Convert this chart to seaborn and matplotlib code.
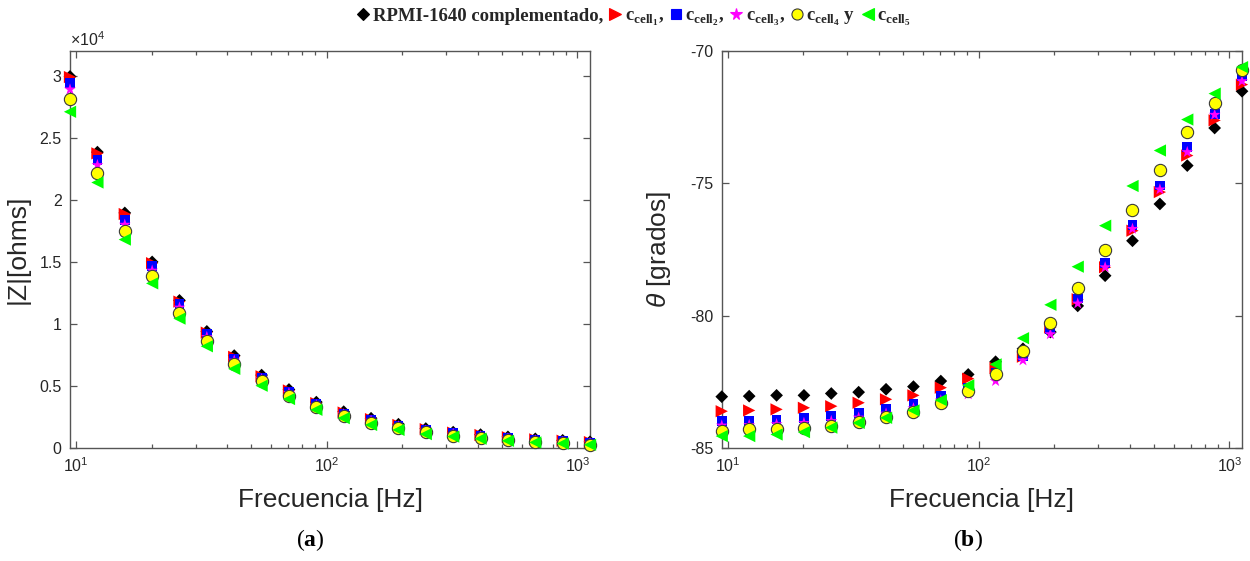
import matplotlib
matplotlib.use("Agg")
import matplotlib.pyplot as plt
import seaborn as sns
from matplotlib.ticker import FixedLocator, FuncFormatter, LogLocator, NullFormatter, LogFormatterSciNotation
from matplotlib.lines import Line2D

# Frequencies of the sweep [Hz]
freq = [9.46, 12.17, 15.65, 20.12, 25.86, 33.25, 42.76, 54.99, 70.70, 90.92,
        116.9, 150.3, 193.3, 248.5, 319.6, 410.9, 528.4, 679.4, 873.6, 1123.0]

# Impedance magnitude |Z| [ohms]
z_rpmi = [29950, 23850, 18950, 15000, 11900, 9400, 7450, 5880, 4720, 3700,
          2930, 2400, 1920, 1570, 1280, 1080, 900, 740, 620, 500]
z_c1 = [29900, 23750, 18860, 14900, 11800, 9300, 7350, 5780, 4640, 3620,
        2860, 2330, 1860, 1520, 1240, 1050, 870, 700, 590, 480]
z_c2 = [29400, 23200, 18400, 14640, 11590, 9160, 7200, 5670, 4520, 3520,
        2780, 2260, 1800, 1460, 1180, 1000, 820, 660, 550, 440]
z_c3 = [28900, 22800, 18000, 14300, 11320, 8950, 7050, 5550, 4430, 3450,
        2720, 2200, 1750, 1400, 1130, 950, 780, 620, 500, 400]
z_c4 = [28100, 22200, 17530, 13830, 10920, 8610, 6800, 5370, 4210, 3300,
        2590, 2050, 1600, 1280, 1000, 820, 650, 500, 400, 280]
z_c5 = [27100, 21400, 16800, 13270, 10430, 8200, 6380, 5020, 3950, 3080,
        2410, 1860, 1460, 1120, 920, 750, 580, 450, 360, 260]

# Phase angle theta [degrees]
ph_rpmi = [-83.06, -83.04, -83.01, -83.01, -82.94, -82.89, -82.78, -82.68, -82.47, -82.22,
           -81.74, -81.25, -80.62, -79.63, -78.49, -77.17, -75.78, -74.33, -72.91, -71.52]
ph_c1 = [-83.61, -83.58, -83.54, -83.48, -83.42, -83.29, -83.16, -83.01, -82.72, -82.38,
         -81.98, -81.55, -80.45, -79.38, -78.17, -76.79, -75.33, -73.95, -72.62, -71.27]
ph_c2 = [-83.98, -83.98, -83.92, -83.88, -83.80, -83.67, -83.54, -83.35, -83.04, -82.72,
         -82.15, -81.52, -80.51, -79.35, -78.02, -76.57, -75.08, -73.63, -72.37, -70.94]
ph_c3 = [-84.15, -84.13, -84.10, -84.05, -83.98, -83.85, -83.70, -83.50, -83.20, -82.97,
         -82.47, -81.69, -80.70, -79.54, -78.17, -76.72, -75.23, -73.82, -72.41, -71.14]
ph_c4 = [-84.34, -84.30, -84.30, -84.23, -84.15, -84.01, -83.83, -83.64, -83.29, -82.85,
         -82.22, -81.33, -80.26, -78.96, -77.51, -75.99, -74.51, -73.06, -71.96, -70.70]
ph_c5 = [-84.55, -84.55, -84.49, -84.40, -84.23, -84.05, -83.86, -83.58, -83.19, -82.63,
         -81.84, -80.85, -79.59, -78.15, -76.60, -75.10, -73.76, -72.59, -71.61, -70.61]

labels = ["RPMI-1640 complementado,",
          r"c$_{\mathbf{cell}_{\mathbf{1}}}$,",
          r"c$_{\mathbf{cell}_{\mathbf{2}}}$,",
          r"c$_{\mathbf{cell}_{\mathbf{3}}}$,",
          r"c$_{\mathbf{cell}_{\mathbf{4}}}$ y",
          r"c$_{\mathbf{cell}_{\mathbf{5}}}$"]

sns.set_theme(style="white")
plt.rcParams["font.family"] = ["Liberation Sans", "DejaVu Sans"]
plt.rcParams["axes.unicode_minus"] = False
plt.rcParams["mathtext.fontset"] = "custom"
plt.rcParams["mathtext.rm"] = "Liberation Sans"
plt.rcParams["mathtext.it"] = "Liberation Sans:italic"
plt.rcParams["mathtext.bf"] = "Liberation Serif:bold"

styles = [
    dict(marker="D", color="black", edgecolor="none", s=42),
    dict(marker=">", color="#ff0000", edgecolor="none", s=78),
    dict(marker="s", color="#0000ff", edgecolor="none", s=50),
    dict(marker="*", color="#ff00ff", edgecolor="none", s=80),
    dict(marker="o", color="#ffff00", edgecolor="#3a3a3a", linewidth=0.8, s=78),
    dict(marker="<", color="#00ff00", edgecolor="none", s=78),
]

z_series = [z_rpmi, z_c1, z_c2, z_c3, z_c4, z_c5]
ph_series = [ph_rpmi, ph_c1, ph_c2, ph_c3, ph_c4, ph_c5]

fig = plt.figure(figsize=(12.5, 5.61), dpi=100)
ax1 = fig.add_axes([0.056, 0.2014, 0.416, 0.7077])
ax2 = fig.add_axes([0.5774, 0.2014, 0.4162, 0.7077])

axis_col = "#555555"
text_col = "#262626"

for ax, series in ((ax1, z_series), (ax2, ph_series)):
    for k, (vals, st) in enumerate(zip(series, styles)):
        sns.scatterplot(x=freq, y=vals, ax=ax, clip_on=False, zorder=3 + k, **st)
    ax.set_xscale("log")
    ax.set_xlim(freq[0], freq[-1])
    ax.xaxis.set_major_locator(LogLocator(base=10, numticks=10))
    ax.xaxis.set_major_formatter(LogFormatterSciNotation())
    ax.xaxis.set_minor_locator(LogLocator(base=10, subs=range(2, 10), numticks=20))
    ax.xaxis.set_minor_formatter(NullFormatter())
    ax.tick_params(which="both", direction="in", top=True, right=True,
                   bottom=True, left=True, colors=axis_col, labelcolor=text_col,
                   labelsize=11.5, width=0.9)
    ax.tick_params(which="major", length=5, pad=6)
    ax.tick_params(which="minor", length=3)
    for sp in ax.spines.values():
        sp.set_color(axis_col)
        sp.set_linewidth(1.0)
    ax.set_xlabel("Frecuencia [Hz]", fontsize=19, color=text_col, labelpad=9)
    ax.grid(False)

ax1.set_ylim(0, 32000)
ax1.yaxis.set_major_locator(FixedLocator([0, 5000, 10000, 15000, 20000, 25000, 30000]))
ax1.yaxis.set_major_formatter(FuncFormatter(lambda v, p: f"{v / 1e4:g}"))
ax1.text(0.0, 1.012, r"$\times10^4$", transform=ax1.transAxes, fontsize=11.5,
         color=text_col, ha="left", va="baseline")
ax1.set_ylabel("|Z|[ohms]", fontsize=19, color=text_col)
ax1.yaxis.set_label_coords(-0.078, 0.5)

ax2.set_ylim(-85, -70)
ax2.yaxis.set_major_locator(FixedLocator([-85, -80, -75, -70]))
ax2.yaxis.set_major_formatter(FuncFormatter(lambda v, p: f"{v:g}"))
ax2.set_ylabel(r"$\theta$ [grados]", fontsize=19, color=text_col)
ax2.yaxis.set_label_coords(-0.093, 0.5)

# Legend row across the top
handles = [Line2D([], [], linestyle="none", marker=st["marker"], markerfacecolor=st["color"],
                  markeredgecolor=(st["edgecolor"] if st["edgecolor"] != "none" else st["color"]),
                  markeredgewidth=0.8, markersize=ms)
           for st, ms in zip(styles, [6, 8, 6.5, 8.5, 8, 8])]
fig.legend(handles, labels, loc="center", bbox_to_anchor=(0.507, 0.968), ncol=6,
           frameon=False, handlelength=0.7, handletextpad=0.15, columnspacing=0.3,
           prop={"family": "Liberation Serif", "weight": "bold", "size": 13.5},
           borderaxespad=0)

# Panel captions
for xc, letter in ((0.248, "a"), (0.774, "b")):
    fig.text(xc, 0.037, "(" + r"$\mathbf{" + letter + "}$" + ")", ha="center", va="center",
             fontsize=17, family="Liberation Serif", color="black")

fig.savefig("out.png", dpi=100)
